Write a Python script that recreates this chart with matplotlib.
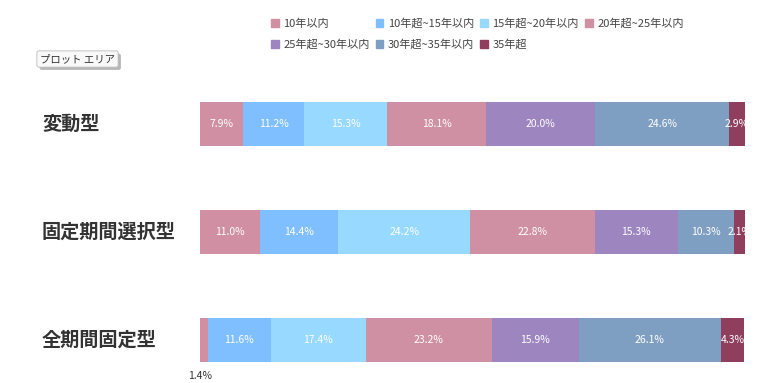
import numpy as np
import matplotlib
matplotlib.use("Agg")
import matplotlib.pyplot as plt
import matplotlib.patheffects as pe
from matplotlib.patches import Patch

plt.rcParams['font.family'] = ['Noto Sans CJK JP', 'DejaVu Sans']

categories = ['変動型', '固定期間選択型', '全期間固定型']
series = ['10年以内', '10年超~15年以内', '15年超~20年以内', '20年超~25年以内',
          '25年超~30年以内', '30年超~35年以内', '35年超']
values = np.array([
    [7.9, 11.2, 15.3, 18.1, 20.0, 24.6, 2.9],
    [11.0, 14.4, 24.2, 22.8, 15.3, 10.3, 2.1],
    [1.4, 11.6, 17.4, 23.2, 15.9, 26.1, 4.3],
])
colors = ['#D08FA3', '#80BFFF', '#97D9FF', '#D090A4', '#9D85C0', '#7F9FC2', '#8F3E5E']

W, H = 776, 383
fig = plt.figure(figsize=(W / 100, H / 100), dpi=100)
ax = fig.add_axes([200 / W, 0, 545 / W, 1])

# map row index -> pixel centre (124, 232, 340), spacing 108 px
ax.set_ylim((H - 124) / 108, -124 / 108)
ax.set_xlim(0, values[0].sum())
ypos = np.arange(len(categories))

left = np.zeros(len(categories))
for j, s in enumerate(series):
    w = values[:, j]
    ax.barh(ypos, w, left=left, height=0.4, color=colors[j], label=s)
    for i in range(len(categories)):
        if w[i] < 2:
            ax.text(left[i], ypos[i] + 0.33, f'{w[i]:.1f}%', ha='center', va='center',
                    fontsize=7.5, color='#333333')
        else:
            ax.text(left[i] + w[i] / 2, ypos[i], f'{w[i]:.1f}%', ha='center', va='center',
                    fontsize=7.5, color='white')
    left += w
ax.axis('off')

for i, c in enumerate(categories):
    fig.text(42 / W, 1 - (124 + 108 * i) / H, c, ha='left', va='center',
             fontsize=13.8, fontweight='bold', color='#333333')

# legend fills column by column, so reorder to read row by row
order = [0, 4, 1, 5, 2, 6, 3]
handles = [Patch(color=colors[j]) for j in order]
labels = [series[j] for j in order]
fig.legend(handles, labels, ncol=4, loc='upper left', bbox_to_anchor=(261 / W, 1 - 8 / H),
           frameon=False, fontsize=8, handlelength=0.7, handleheight=0.7,
           handletextpad=0.4, columnspacing=0.55, labelspacing=0.95, labelcolor='#444444')

t = fig.text(40 / W, 1 - 59 / H, 'プロット エリア', ha='left', va='center', fontsize=7.5,
             color='#333333',
             bbox=dict(boxstyle='round,pad=0.3,rounding_size=0.2', fc='#f9f9f9', ec='#bbbbbb', lw=0.6))
t.get_bbox_patch().set_path_effects([pe.withSimplePatchShadow(offset=(2, -2), shadow_rgbFace='#888888', alpha=0.6)])

fig.savefig('out.png', dpi=100)
